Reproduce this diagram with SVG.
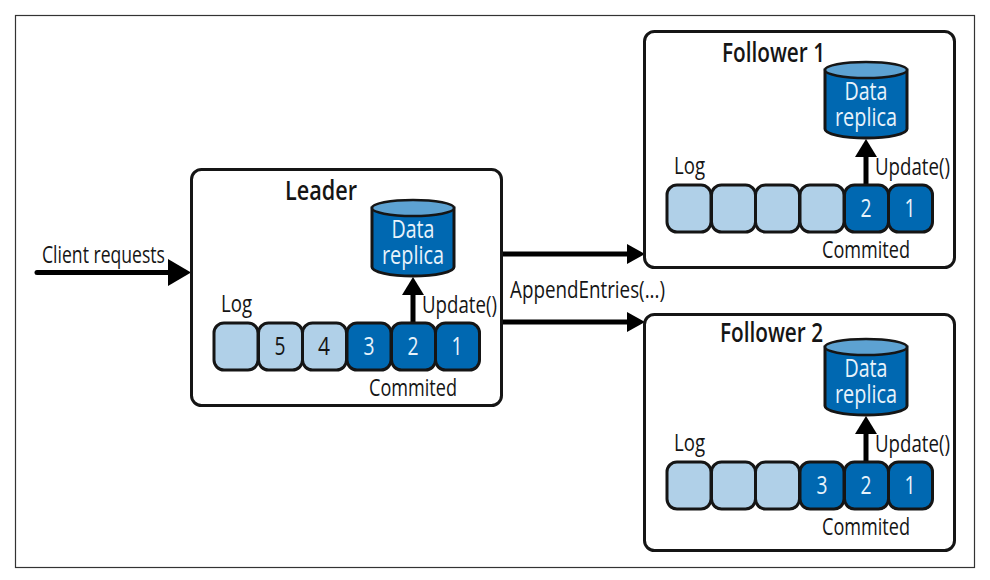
<svg xmlns="http://www.w3.org/2000/svg" width="990" height="580" viewBox="0 0 990 580">
<style>
text{font-family:"Open Sans","Liberation Sans",sans-serif;fill:#151515;font-size:23px}
.t{font-size:27px;font-weight:600}
.w{fill:#e8f3fb;font-size:25px}
.n{font-size:25px;text-anchor:middle}
.box{fill:#fff;stroke:#151515;stroke-width:3}
.l{fill:#b0d0e8;stroke:#151515;stroke-width:3}
.d{fill:#0068b1;stroke:#151515;stroke-width:3}
.top{fill:#5da2d2;stroke:#151515;stroke-width:2.5}
.c{stroke:#000;stroke-width:5;fill:none;stroke-linecap:round}
.h{fill:#000}
</style>
<defs>
<g id="cyl">
<path class="d" d="M372 208V267C372 272 390 276 413 276S454 272 454 267V208Z"/>
<ellipse class="top" cx="413" cy="208" rx="41" ry="8"/>
<text class="w" text-anchor="middle" x="413" y="238" textLength="43" lengthAdjust="spacingAndGlyphs">Data</text>
<text class="w" text-anchor="middle" x="413" y="264" textLength="62" lengthAdjust="spacingAndGlyphs">replica</text>
<path class="c" d="M413 322V292"/>
<path class="h" d="M413 277L424 295H402Z"/>
</g>
<rect id="cell" width="44" height="47" rx="10"/>
</defs>
<rect id="frame" x="15.500" y="15.500" width="959" height="552" fill="#fff" stroke="#333" stroke-width="1.2"/>
<g id="connectors">
<path class="c" d="M37 272.500H170"/>
<path class="h" d="M168 259L191 272.500L168 286Z"/>
<path class="c" d="M503 254H628"/>
<path class="h" d="M627 244L645 254L627 264Z"/>
<path class="c" d="M503 322H628"/>
<path class="h" d="M627 312L645 322L627 332Z"/>
</g>
<text x="42" y="263" textLength="123" lengthAdjust="spacingAndGlyphs">Client requests</text>
<text x="510" y="298" textLength="155" lengthAdjust="spacingAndGlyphs">AppendEntries(...)</text>
<g id="leader">
<rect class="box" x="191.500" y="169.500" width="310" height="236" rx="10"/>
<text class="t" x="285" y="200" textLength="72" lengthAdjust="spacingAndGlyphs">Leader</text>
<use href="#cyl"/>
<text x="221" y="312" textLength="31" lengthAdjust="spacingAndGlyphs">Log</text>
<text x="422" y="313" textLength="75" lengthAdjust="spacingAndGlyphs">Update()</text>
<use href="#cell" x="214" y="323" class="l"/><use href="#cell" x="258.500" y="323" class="l"/><use href="#cell" x="302.500" y="323" class="l"/>
<use href="#cell" x="347" y="323" class="d"/><use href="#cell" x="391.500" y="323" class="d"/><use href="#cell" x="435.500" y="323" class="d"/>
<text class="n" x="280" y="355" textLength="11" lengthAdjust="spacingAndGlyphs">5</text><text class="n" x="324" y="355" textLength="12" lengthAdjust="spacingAndGlyphs">4</text>
<text class="n w" x="369" y="355" textLength="11" lengthAdjust="spacingAndGlyphs">3</text><text class="n w" x="413" y="355" textLength="11" lengthAdjust="spacingAndGlyphs">2</text><text class="n w" x="457" y="355" textLength="11" lengthAdjust="spacingAndGlyphs">1</text>
<text x="369" y="396" textLength="88" lengthAdjust="spacingAndGlyphs">Commited</text>
</g>
<g id="follower1" transform="translate(453 -138)">
<rect class="box" x="191.500" y="169.500" width="310" height="236" rx="10"/>
<text class="t" x="269" y="200" textLength="103" lengthAdjust="spacingAndGlyphs">Follower 1</text>
<use href="#cyl"/>
<text x="221" y="312" textLength="31" lengthAdjust="spacingAndGlyphs">Log</text>
<text x="422" y="313" textLength="75" lengthAdjust="spacingAndGlyphs">Update()</text>
<use href="#cell" x="214" y="323" class="l"/><use href="#cell" x="258.500" y="323" class="l"/><use href="#cell" x="302.500" y="323" class="l"/>
<use href="#cell" x="347" y="323" class="l"/><use href="#cell" x="391.500" y="323" class="d"/><use href="#cell" x="435.500" y="323" class="d"/>
<text class="n w" x="413" y="355" textLength="11" lengthAdjust="spacingAndGlyphs">2</text><text class="n w" x="457" y="355" textLength="11" lengthAdjust="spacingAndGlyphs">1</text>
<text x="369" y="396" textLength="88" lengthAdjust="spacingAndGlyphs">Commited</text>
</g>
<g id="follower2" transform="translate(453 139)">
<rect class="box" x="191.500" y="175.500" width="310" height="236" rx="10"/>
<text class="t" x="267" y="203" textLength="103" lengthAdjust="spacingAndGlyphs">Follower 2</text>
<use href="#cyl"/>
<text x="221" y="312" textLength="31" lengthAdjust="spacingAndGlyphs">Log</text>
<text x="422" y="313" textLength="75" lengthAdjust="spacingAndGlyphs">Update()</text>
<use href="#cell" x="214" y="323" class="l"/><use href="#cell" x="258.500" y="323" class="l"/><use href="#cell" x="302.500" y="323" class="l"/>
<use href="#cell" x="347" y="323" class="d"/><use href="#cell" x="391.500" y="323" class="d"/><use href="#cell" x="435.500" y="323" class="d"/>
<text class="n w" x="369" y="355" textLength="11" lengthAdjust="spacingAndGlyphs">3</text><text class="n w" x="413" y="355" textLength="11" lengthAdjust="spacingAndGlyphs">2</text><text class="n w" x="457" y="355" textLength="11" lengthAdjust="spacingAndGlyphs">1</text>
<text x="369" y="396" textLength="88" lengthAdjust="spacingAndGlyphs">Commited</text>
</g>
</svg>
